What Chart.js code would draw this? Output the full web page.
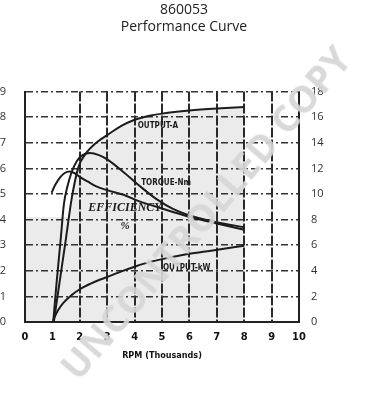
<!DOCTYPE html>
<html>
<head>
<meta charset="utf-8">
<script src="https://cdn.jsdelivr.net/npm/chart.js@4"></script>
<style>
  html, body { margin: 0; padding: 0; background: #fff; }
  #wrap { position: relative; width: 368px; height: 400px; overflow: hidden; }
  #c { position: absolute; left: 0; top: 0; }
  #wm {
    position: absolute; left: 205px; top: 212px;
    transform: translate(-50%, -50%) rotate(-49.5deg);
    font-family: "Open Sans", "DejaVu Sans", sans-serif; font-weight: 700;
    font-size: 37px; letter-spacing: 0.5px; white-space: nowrap;
    color: rgba(214,214,214,0.92); pointer-events: none;
  }
</style>
</head>
<body>
<div id="wrap">
  <canvas id="c" width="368" height="400"></canvas>
  <div id="wm">UNCONTROLLED COPY</div>
</div>
<script>
// ---- titles / ticks ----
const titleLines = ['860053', 'Performance Curve'];
const xAxisTitle = 'RPM (Thousands)';
const xTickLabels = ['0','1','2','3','4','5','6','7','8','9','10'];
const leftTicks = [0,1,2,3,4,5,6,7,8,9];
const rightTicks = [0,2,4,6,8,10,12,14,16,18];

// ---- series (RPM in thousands) ----
// Output current, A (right axis)
const rpmAmps = [1.05, 1.2, 1.35, 1.5, 1.7, 1.95, 2.2, 2.6, 3.0, 3.5, 4.0, 4.5, 5.0, 6.0, 7.0, 8.0];
const amps    = [0, 2.2, 4.4, 6.6, 9.6, 12.1, 13.1, 14.0, 14.6, 15.3, 15.8, 16.1, 16.28, 16.52, 16.68, 16.8];
// Torque, Nm (left axis)
const rpmTorque = [1.03, 1.15, 1.3, 1.42, 1.55, 1.7, 1.9, 2.1, 2.37, 2.7, 3.0, 3.6, 4.2, 4.8, 5.4, 6.2, 7.0, 8.0];
const torque    = [0, 1.5, 3.2, 4.6, 5.3, 5.85, 6.3, 6.52, 6.6, 6.52, 6.35, 5.85, 5.3, 4.8, 4.42, 4.1, 3.9, 3.7];
// Efficiency (left axis scale)
const rpmEff = [0.97, 1.1, 1.28, 1.45, 1.62, 1.8, 2.0, 2.3, 2.6, 3.0, 3.6, 4.2, 4.8, 5.4, 6.2, 7.0, 8.0];
const eff    = [5.05, 5.35, 5.65, 5.82, 5.88, 5.82, 5.67, 5.48, 5.3, 5.15, 4.97, 4.7, 4.5, 4.3, 4.05, 3.85, 3.6];
// Output power, kW (left axis)
const rpmKw = [1.02, 1.2, 1.4, 1.7, 2.0, 2.4, 2.75, 3.1, 3.5, 4.0, 4.5, 5.2, 5.8, 6.5, 7.2, 8.0];
const kw    = [0.05, 0.45, 0.75, 1.05, 1.28, 1.5, 1.66, 1.8, 1.97, 2.16, 2.33, 2.5, 2.63, 2.74, 2.85, 2.98];

// ---- handwritten curve labels ----
const noteText = ['OUTPUT-A', 'TORQUE-Nm', 'EFFICIENCY', '%', 'OUTPUT-kW'];
const noteX    = [4.85, 5.15, 3.65, 3.65, 5.9];
const noteY    = [7.65, 5.45, 4.47, 3.76, 2.12];
const noteFont = ['bold 8px "DejaVu Sans Condensed", sans-serif',
                  'bold 8px "DejaVu Sans Condensed", sans-serif',
                  'italic bold 12px "Liberation Serif", serif',
                  'italic bold 11px "Liberation Serif", serif',
                  'bold 8px "DejaVu Sans Condensed", sans-serif'];

const toXY = (xs, ys) => xs.map((x, i) => ({x: x, y: ys[i]}));
const INK = '#1c1c1c';

const shadePlugin = {
  id: 'shade',
  beforeDraw(chart) {
    const {ctx, scales: {x, y}} = chart;
    ctx.save();
    ctx.fillStyle = '#ebebeb';
    const x0 = x.getPixelForValue(0), x1 = x.getPixelForValue(8);
    const y0 = y.getPixelForValue(0), y1 = y.getPixelForValue(4.1);
    ctx.fillRect(x0, y1, x1 - x0, y0 - y1);
    ctx.restore();
  }
};

const notesPlugin = {
  id: 'notes',
  afterDatasetsDraw(chart) {
    const {ctx, scales: {x, y}} = chart;
    ctx.save();
    ctx.fillStyle = INK;
    ctx.textAlign = 'center';
    ctx.textBaseline = 'middle';
    noteText.forEach((t, i) => {
      ctx.font = noteFont[i];
      ctx.fillText(t, x.getPixelForValue(noteX[i]), y.getPixelForValue(noteY[i]));
    });
    ctx.restore();
  }
};

const lineStyle = {
  borderColor: INK, borderWidth: 2, pointRadius: 0,
  cubicInterpolationMode: 'monotone', fill: false
};

new Chart(document.getElementById('c'), {
  type: 'line',
  data: {
    datasets: [
      Object.assign({}, lineStyle, {label: 'Output A', data: toXY(rpmAmps, amps), yAxisID: 'y2',
        fill: 'origin', backgroundColor: '#ebebeb'}),
      Object.assign({}, lineStyle, {label: 'Torque Nm', data: toXY(rpmTorque, torque), yAxisID: 'y'}),
      Object.assign({}, lineStyle, {label: 'Efficiency %', data: toXY(rpmEff, eff), yAxisID: 'y'}),
      Object.assign({}, lineStyle, {label: 'Output kW', data: toXY(rpmKw, kw), yAxisID: 'y'})
    ]
  },
  plugins: [shadePlugin, notesPlugin],
  options: {
    responsive: false,
    animation: false,
    events: [],
    layout: { padding: 0 },
    plugins: {
      legend: { display: false },
      tooltip: { enabled: false },
      filler: { drawTime: 'beforeDraw' },
      title: {
        display: true, text: titleLines, color: '#222',
        font: { family: '"Open Sans", sans-serif', size: 14, weight: 'normal', lineHeight: 1.2 },
        padding: { top: 2, bottom: 56 }
      }
    },
    scales: {
      x: {
        type: 'linear', min: 0, max: 10,
        afterBuildTicks: s => { s.ticks = xTickLabels.map((_, i) => ({value: i})); },
        ticks: {
          callback: (v, i) => xTickLabels[i],
          color: '#111', padding: 9, maxRotation: 0, autoSkip: false,
          font: { family: '"DejaVu Sans Condensed", "Liberation Sans", sans-serif', size: 11, weight: 'bold' }
        },
        grid: {
          color: c => (c.tick && c.tick.value === 1) ? 'rgba(0,0,0,0)' : '#2a2a2a',
          lineWidth: 2, drawTicks: false
        },
        border: { display: true, color: '#222', width: 2, dash: [10, 2] },
        title: {
          display: true, text: xAxisTitle, color: '#111',
          font: { family: '"DejaVu Sans Condensed", sans-serif', size: 9, weight: 'bold', lineHeight: 1.2 },
          padding: { top: 0, bottom: 39 }
        },
        afterFit: s => { s.height = 78; }
      },
      y: {
        position: 'left', min: 0, max: 9,
        afterBuildTicks: s => { s.ticks = leftTicks.map(v => ({value: v})); },
        ticks: {
          color: '#333', padding: 19,
          font: { family: '"Open Sans", sans-serif', size: 11 }
        },
        grid: { color: '#333', lineWidth: 1.5, drawTicks: false },
        border: { display: true, color: '#222', width: 2, dash: [7, 3, 2, 3] },
        afterFit: s => { s.width = 25; }
      },
      y2: {
        position: 'right', min: 0, max: 18,
        afterBuildTicks: s => { s.ticks = rightTicks.map(v => ({value: v})); },
        ticks: {
          color: '#333', padding: 12,
          font: { family: '"Open Sans", sans-serif', size: 11 }
        },
        grid: { display: false, drawTicks: false },
        border: { display: true, color: '#222', width: 2 },
        afterFit: s => { s.width = 69; }
      }
    }
  }
});
</script>
</body>
</html>
